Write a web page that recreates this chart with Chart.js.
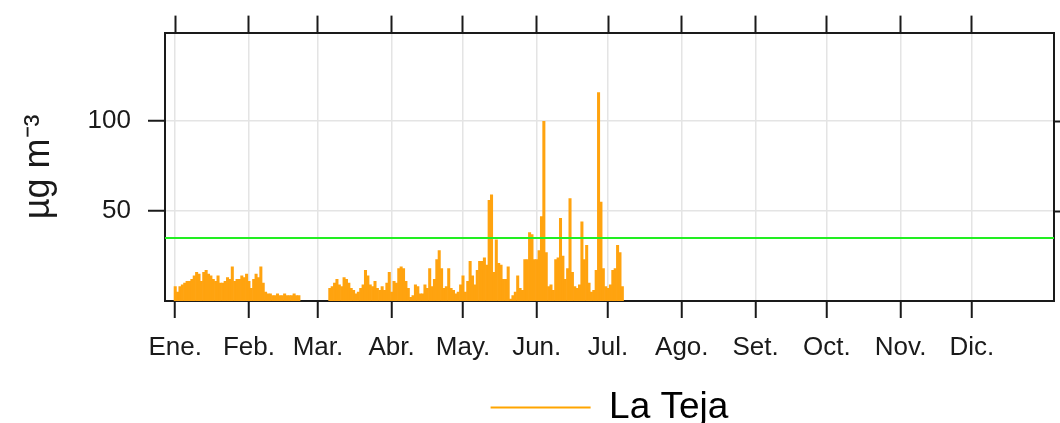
<!DOCTYPE html>
<html>
<head>
<meta charset="utf-8">
<script src="https://cdn.jsdelivr.net/npm/chart.js@4.4.1/dist/chart.umd.min.js"></script>
<style>
  html, body { margin: 0; padding: 0; background: #fff; }
  #wrap { width: 1060px; height: 423px; }
</style>
</head>
<body>
<div id="wrap"><canvas id="chart"></canvas></div>
<script>
// Month ticks (day of year, leap year) and their labels
const monthStartDays = [0, 31, 60, 91, 121, 152, 182, 213, 244, 274, 305, 335];
const monthLabels = ['Ene.', 'Feb.', 'Mar.', 'Abr.', 'May.', 'Jun.', 'Jul.', 'Ago.', 'Set.', 'Oct.', 'Nov.', 'Dic.'];

// Daily concentration at La Teja (µg m-3)
const janValues = [8, 5, 8, 9, 10, 11, 11, 12, 14, 16, 15, 11, 16, 17, 15, 14, 12, 11, 14, 10, 10, 11, 13, 12, 19, 11, 12, 12, 14, 13, 15];
const febValues = [11, 7, 12, 15, 13, 19, 10, 5, 4, 4, 3, 3, 4, 3, 3, 4, 3, 3, 3, 4, 3, 3];
const gapValues = [null, null, null, null, null, null, null, null, null, null, null, null];
const marValues = [7, 8, 10, 12, 9, 8, 13, 12, 10, 7, 6, 4, 5, 7, 9, 17, 14, 9, 8, 11, 7, 6, 8, 6, 10, 16, 5];
const aprValues = [11, 10, 18, 19, 18, 11, 7, 2, 3, 9, 8, 4, 4, 9, 7, 18, 8, 12, 23, 28, 18, 7, 8, 18, 7, 6, 4, 5, 9];
const mayValues = [14, 5, 11, 22, 14, 9, 17, 22, 22, 24, 20, 56, 59, 16, 34, 21, 20, 12, 12, 19, 1, 3, 5, 14, 7, 6, 23, 23, 38, 37, 23];
const junValues = [23, 28, 47, 100, 27, 8, 9, 6, 23, 24, 46, 25, 12, 18, 57, 16, 8, 7, 9, 44, 23, 31, 10, 5, 6, 17, 116, 55, 18, 8];
const julValues = [7, 9, 17, 18, 31, 27, 8];

const laTeja = [].concat(janValues, febValues, gapValues, marValues, aprValues, mayValues, junValues, julValues);

// Guide value (green line) and y ticks
const limitValue = 35;
const yTickValues = [50, 100];

// Axis ranges
const xMin = -4.3;
const xMax = 369.5;
const yMin = 0;
const yMax = 149.3;

const fontFamily = "'Liberation Sans', Arial, sans-serif";
Chart.defaults.font.family = fontFamily;
Chart.defaults.color = '#1a1a1a';

const frame = { color: '#1a1a1a', width: 2 };

new Chart(document.getElementById('chart'), {
  type: 'bar',
  data: {
    datasets: [
      {
        type: 'line',
        label: 'limit',
        data: [{ x: xMin, y: limitValue }, { x: xMax, y: limitValue }],
        borderColor: '#22ee22',
        borderWidth: 2,
        pointRadius: 0,
        order: 0
      },
      {
        label: 'La Teja',
        data: laTeja.map((v, i) => ({ x: i, y: v })),
        backgroundColor: '#FFA30F',
        borderWidth: 0,
        barPercentage: 1,
        categoryPercentage: 1,
        order: 1
      }
    ]
  },
  options: {
    responsive: true,
    maintainAspectRatio: false,
    animation: false,
    layout: { padding: { left: 0, right: 0, top: 0, bottom: -13 } },
    plugins: {
      tooltip: { enabled: false },
      legend: {
        position: 'bottom',
        fullSize: false,
        labels: {
          usePointStyle: true,
          pointStyle: 'line',
          pointStyleWidth: 100,
          padding: 10,
          color: '#1a1a1a',
          font: { size: 37 },
          generateLabels: () => [{
            text: 'La Teja',
            strokeStyle: '#FFA500',
            fillStyle: '#FFA500',
            lineWidth: 2,
            pointStyle: 'line',
            hidden: false,
            datasetIndex: 1
          }]
        }
      }
    },
    scales: {
      x: {
        type: 'linear',
        position: 'bottom',
        min: xMin,
        max: xMax,
        offset: false,
        afterBuildTicks: s => { s.ticks = monthStartDays.map(v => ({ value: v })); },
        afterFit: s => { s.height = 78; },
        ticks: {
          autoSkip: false,
          maxRotation: 0,
          padding: 14,
          color: '#1a1a1a',
          font: { size: 26 },
          callback: v => monthLabels[monthStartDays.indexOf(v)]
        },
        grid: { offset: false, color: '#e4e4e4', lineWidth: 1.5, tickColor: '#1a1a1a', tickWidth: 2, tickLength: 17 },
        border: frame
      },
      xTop: {
        type: 'linear',
        position: 'top',
        min: xMin,
        max: xMax,
        offset: false,
        afterBuildTicks: s => { s.ticks = monthStartDays.map(v => ({ value: v })); },
        afterFit: s => { s.height = 31; },
        ticks: { display: false },
        grid: { offset: false, drawOnChartArea: false, tickColor: '#1a1a1a', tickWidth: 2, tickLength: 17 },
        border: frame
      },
      y: {
        type: 'linear',
        position: 'left',
        min: yMin,
        max: yMax,
        afterBuildTicks: s => { s.ticks = yTickValues.map(v => ({ value: v })); },
        afterFit: s => { s.width = 165; },
        ticks: { padding: 17, color: '#1a1a1a', font: { size: 26 } },
        grid: { color: '#e4e4e4', lineWidth: 1.5, tickColor: '#1a1a1a', tickWidth: 2, tickLength: 17 },
        border: frame,
        title: {
          display: true,
          text: 'µg m⁻³',
          color: '#1a1a1a',
          font: { size: 36, lineHeight: 1.2 },
          padding: { top: 17, bottom: 0 }
        }
      },
      yRight: {
        type: 'linear',
        position: 'right',
        min: yMin,
        max: yMax,
        afterBuildTicks: s => { s.ticks = yTickValues.map(v => ({ value: v })); },
        afterFit: s => { s.width = 6; },
        ticks: { display: false },
        grid: { drawOnChartArea: false, tickColor: '#1a1a1a', tickWidth: 2, tickLength: 17 },
        border: frame
      }
    }
  }
});
</script>
</body>
</html>
